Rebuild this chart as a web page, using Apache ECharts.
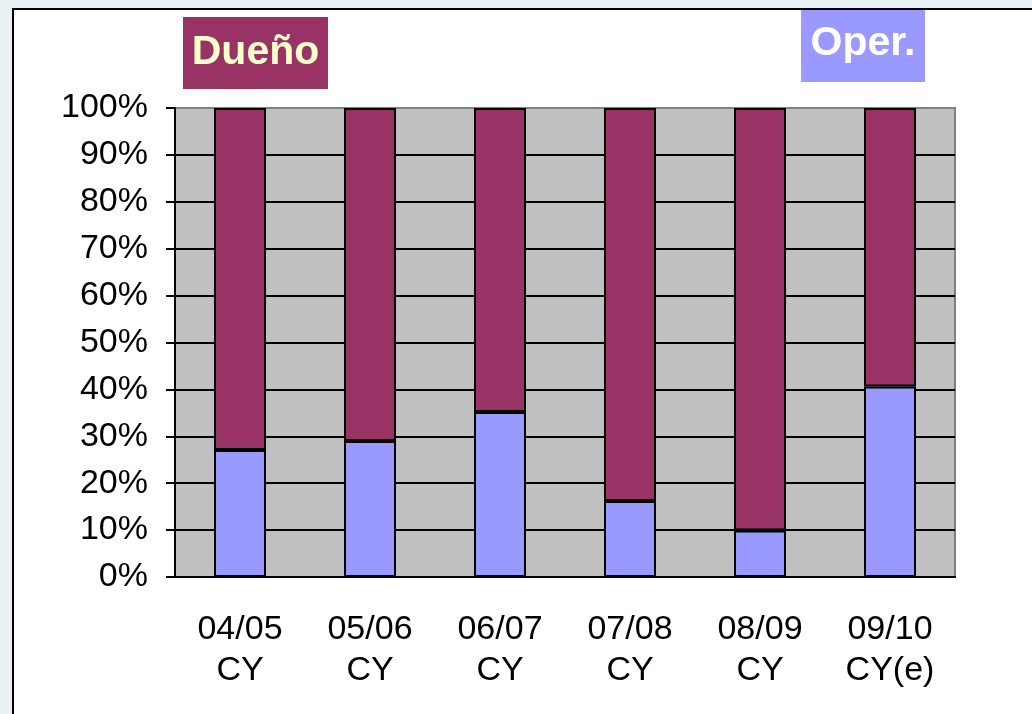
<!DOCTYPE html>
<html>
<head>
<meta charset="utf-8">
<script src="https://cdn.jsdelivr.net/npm/echarts@6/dist/echarts.min.js"></script>
<style>
  html, body { margin: 0; padding: 0; background: #e8f0f3; }
  #frame { position: absolute; left: 12px; top: 8px; width: 1030px; height: 730px;
           border: 2px solid #000; background: #fff; box-sizing: border-box; }
  #chart { position: absolute; left: 0; top: 0; width: 1032px; height: 714px; }
</style>
</head>
<body>
<div id="frame"></div>
<div id="chart"></div>
<script>
// datos del gráfico (porcentaje)
var categories = ["04/05\nCY", "05/06\nCY", "06/07\nCY", "07/08\nCY", "08/09\nCY", "09/10\nCY(e)"];
var operValues = [27.1, 29.0, 35.2, 16.2, 9.9, 40.6];
var duenoValues = [72.9, 71.0, 64.8, 83.8, 90.1, 59.4];
var yTicks = [0, 10, 20, 30, 40, 50, 60, 70, 80, 90, 100];

var voChart = echarts.init(document.getElementById("chart"));

// la línea de 100% coincide con el borde gris del área
var splitColors = yTicks.map(function(v){ return v == 100 ? "#808080" : "#000"; });

var voOption = {
    animation: false,
    backgroundColor: "transparent",
    textStyle: { fontFamily: "'Liberation Sans', Arial, sans-serif" },
    grid: {
        left: 175, right: 77, top: 108, bottom: 137,
        show: true,
        backgroundColor: "#c0c0c0",
        borderColor: "#808080",
        borderWidth: 2
    },
    graphic: [
        {
            type: "group", left: 183, top: 17,
            children: [
                { type: "rect", shape: { x: 0, y: 0, width: 145, height: 72 }, style: { fill: "#993366" } },
                { type: "text", x: 72.5, y: 36, style: { text: "Dueño", fill: "#ffffcc", fontSize: 41, fontWeight: "bold",
                    fontFamily: "'Liberation Sans', Arial, sans-serif", align: "center", verticalAlign: "middle" } }
            ]
        },
        {
            type: "group", left: 801, top: 10,
            children: [
                { type: "rect", shape: { x: 0, y: 0, width: 124, height: 72 }, style: { fill: "#9999ff" } },
                { type: "text", x: 62, y: 34, style: { text: "Oper.", fill: "#ffffff", fontSize: 41, fontWeight: "bold",
                    fontFamily: "'Liberation Sans', Arial, sans-serif", align: "center", verticalAlign: "middle" } }
            ]
        }
    ],
    xAxis: {
        type: "category",
        data: categories,
        axisLine: { lineStyle: { color: "#000", width: 2 } },
        axisTick: { length: 10, lineStyle: { color: "#000", width: 2 } },
        axisLabel: { color: "#000", fontSize: 34, lineHeight: 41, margin: 32 }
    },
    yAxis: {
        type: "value",
        min: 0, max: 100, interval: 10,
        axisLine: { show: true, lineStyle: { color: "#000", width: 2 } },
        axisTick: { show: true, length: 9, lineStyle: { color: "#000", width: 2 } },
        axisLabel: { color: "#000", fontSize: 34, margin: 27, formatter: "{value}%" },
        splitLine: { show: true, lineStyle: { color: splitColors, width: 2 } }
    },
    series: [
        {
            name: "Oper.", type: "bar", stack: "total", barWidth: 52,
            data: operValues,
            itemStyle: { color: "#9999ff", borderColor: "#000", borderWidth: 2 }
        },
        {
            name: "Dueño", type: "bar", stack: "total", barWidth: 52,
            data: duenoValues,
            itemStyle: { color: "#993366", borderColor: "#000", borderWidth: 2 }
        }
    ]
};

voChart.setOption(voOption);
</script>
</body>
</html>
